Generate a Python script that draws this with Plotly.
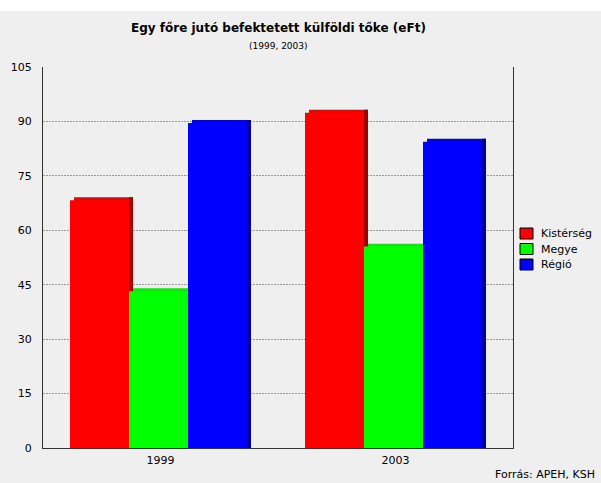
import plotly.graph_objects as go

categories = ["1999", "2003"]
series_names = ["Kistérség", "Megye", "Régió"]
kisterseg = [68.3, 92.4]
megye = [43.2, 55.5]
regio = [89.6, 84.4]
y_ticks = [0, 15, 30, 45, 60, 75, 90, 105]

values = [kisterseg, megye, regio]
front_colors = ["#ff0000", "#00ff00", "#0000ff"]
side_colors = ["#a00000", "#00a000", "#00009a"]
top_colors = ["#f00000", "#00f000", "#0000f0"]

W, H = 601, 483
L, R, T, B = 43, 88, 67, 35
plot_w = W - L - R
plot_h = H - T - B
px_unit = 2 / plot_w          # category units per pixel (2 categories)
bar_w = 59 * px_unit
depth = 4 * px_unit
rise = 0.8                    # top face height in data units
start = -90.5 * px_unit


def px_x(p):
    return (p - L) / plot_w


def px_y(p):
    return (H - B - p) / plot_h


fig = go.Figure()
for i, (name, vals) in enumerate(zip(series_names, values)):
    off = start + i * bar_w
    fig.add_trace(go.Bar(x=categories, y=[v + rise for v in vals], offset=off + depth,
                         width=bar_w, marker=dict(color=top_colors[i], line=dict(width=0)),
                         showlegend=False, hoverinfo="skip"))
    fig.add_trace(go.Bar(x=categories, y=[v + rise for v in vals], offset=off + bar_w,
                         width=depth, marker=dict(color=side_colors[i], line=dict(width=0)),
                         showlegend=False, hoverinfo="skip"))
    fig.add_trace(go.Bar(x=categories, y=vals, offset=off, width=bar_w, name=name,
                         marker=dict(color=front_colors[i], line=dict(width=0)),
                         showlegend=False))

shapes = [dict(type="rect", xref="paper", yref="paper", x0=-1, x1=2,
               y0=px_y(11), y1=px_y(0), fillcolor="#ffffff", line=dict(width=0), layer="below")]
annotations = [
    dict(text="<b>Egy főre jutó befektetett külföldi tőke (eFt)</b>", xref="paper", yref="paper",
         x=0.5, y=px_y(28), xanchor="center", yanchor="middle",
         showarrow=False, font=dict(size=12)),
    dict(text="(1999, 2003)", xref="paper", yref="paper",
         x=0.5, y=px_y(46), xanchor="center", yanchor="middle",
         showarrow=False, font=dict(size=9)),
    dict(text="Forrás: APEH, KSH", xref="paper", yref="paper",
         x=px_x(597), y=px_y(474), xanchor="right", yanchor="middle",
         showarrow=False, font=dict(size=11)),
]
# legend
for i, name in enumerate(series_names):
    cy = 233.5 + i * 15.5
    shapes.append(dict(type="rect", xref="paper", yref="paper",
                       x0=px_x(520), x1=px_x(533), y0=px_y(cy + 5.5), y1=px_y(cy - 5.5),
                       fillcolor=front_colors[i], line=dict(color="#000000", width=1)))
    annotations.append(dict(text=name, xref="paper", yref="paper", x=px_x(539), y=px_y(cy),
                            xanchor="left", yanchor="middle", showarrow=False,
                            font=dict(size=11)))

fig.update_layout(
    width=W, height=H,
    margin=dict(l=L, r=R, t=T, b=B, pad=0),
    paper_bgcolor="#efefef",
    plot_bgcolor="#efefef",
    barmode="overlay",
    font=dict(family="DejaVu Sans", size=11, color="#000000"),
    showlegend=False,
    shapes=shapes,
    annotations=annotations,
)
fig.update_yaxes(range=[0, 105], tickvals=y_ticks, showgrid=True, gridcolor="#999999",
                 griddash="2px,1px", gridwidth=1, showline=True, linecolor="#333333", linewidth=1,
                 mirror=True, zeroline=False, ticks="", ticklabelstandoff=8, fixedrange=True)
fig.update_xaxes(range=[-0.5, 1.5], showline=True, linecolor="#333333", linewidth=1,
                 showgrid=False, ticks="", ticklabelstandoff=2, fixedrange=True)

fig.write_html("out.html", config={"displayModeBar": False},
               post_script="document.body.style.margin='0';document.body.style.overflow='hidden';")
